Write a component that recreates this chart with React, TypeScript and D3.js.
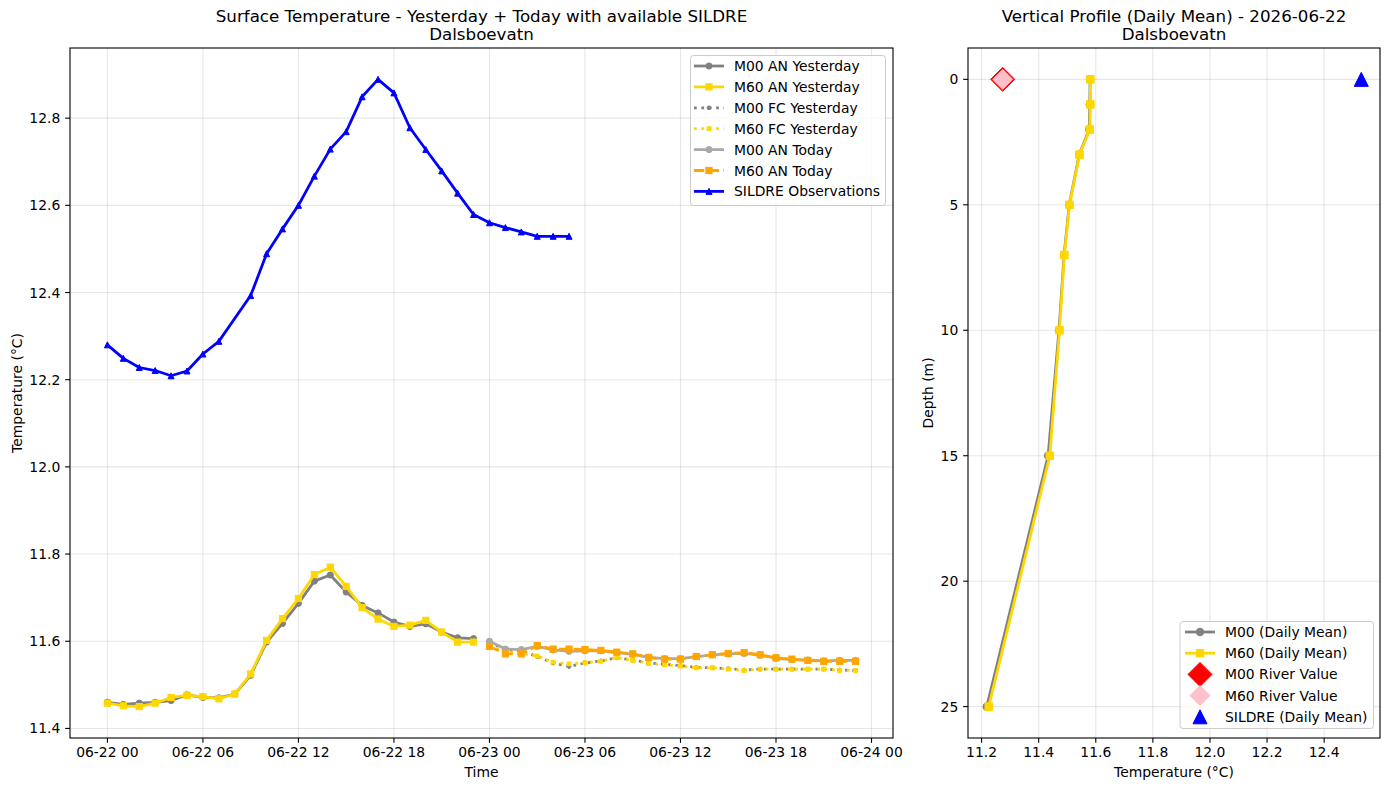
import React from "react";
import * as d3 from "d3";

// ---------------- DATA ----------------
const BASE_UTC = Date.UTC(2026, 5, 22, 0, 0, 0);

// hours since 2026-06-22 00 UTC
const yesterdayHours = d3.range(0, 24);
const todayHours = d3.range(24, 48);
const sildreHours = [0, 1, 2, 3, 4, 5, 6, 7, 9, 10, 11, 12, 13, 14, 15, 16, 17, 18, 19, 20, 21, 22, 23, 24, 25, 26, 27, 28, 29];

const m00AnYesterday = [11.460, 11.455, 11.458, 11.460, 11.464, 11.477, 11.471, 11.470, 11.479, 11.522, 11.598, 11.641, 11.687, 11.738, 11.752, 11.713, 11.682, 11.665, 11.644, 11.634, 11.640, 11.621, 11.608, 11.606];
const m60AnYesterday = [11.458, 11.452, 11.450, 11.458, 11.471, 11.476, 11.473, 11.468, 11.479, 11.525, 11.602, 11.652, 11.698, 11.753, 11.770, 11.726, 11.677, 11.651, 11.634, 11.637, 11.648, 11.621, 11.598, 11.598];

const m00FcYesterday = [11.598, 11.580, 11.578, 11.565, 11.550, 11.542, 11.550, 11.555, 11.562, 11.557, 11.550, 11.547, 11.544, 11.540, 11.539, 11.537, 11.534, 11.536, 11.536, 11.536, 11.536, 11.536, 11.534, 11.533];
const m60FcYesterday = [11.590, 11.575, 11.572, 11.566, 11.552, 11.548, 11.551, 11.554, 11.563, 11.556, 11.549, 11.546, 11.543, 11.539, 11.539, 11.536, 11.533, 11.536, 11.536, 11.536, 11.536, 11.536, 11.533, 11.533];

const m00AnToday = [11.600, 11.582, 11.581, 11.588, 11.580, 11.577, 11.578, 11.578, 11.574, 11.570, 11.563, 11.560, 11.560, 11.565, 11.569, 11.571, 11.572, 11.568, 11.561, 11.558, 11.557, 11.555, 11.556, 11.556];
const m60AnToday = [11.588, 11.571, 11.571, 11.590, 11.582, 11.582, 11.581, 11.579, 11.575, 11.571, 11.563, 11.559, 11.559, 11.565, 11.569, 11.572, 11.574, 11.569, 11.562, 11.559, 11.556, 11.554, 11.554, 11.554];

const sildreObs = [12.280, 12.249, 12.228, 12.221, 12.209, 12.220, 12.259, 12.288, 12.393, 12.489, 12.546, 12.600, 12.667, 12.729, 12.769, 12.849, 12.889, 12.858, 12.778, 12.728, 12.679, 12.628, 12.579, 12.560, 12.549, 12.539, 12.529, 12.529, 12.529];

const depths = [0, 1, 2, 3, 5, 7, 10, 15, 25];
const m00Profile = [11.580, 11.579, 11.577, 11.542, 11.507, 11.489, 11.471, 11.433, 11.218];
const m60Profile = [11.581, 11.581, 11.579, 11.543, 11.508, 11.490, 11.473, 11.439, 11.225];
const m00River = 11.274;
const m60River = 11.274;
const sildreDailyMean = d3.mean(sildreObs) as number;

const leftYTicks = [11.4, 11.6, 11.8, 12.0, 12.2, 12.4, 12.6, 12.8];
const rightYTicks = [0, 5, 10, 15, 20, 25];
const rightXTicks = [11.2, 11.4, 11.6, 11.8, 12.0, 12.2, 12.4];

// ---------------- LAYOUT ----------------
const W = 1389;
const H = 790;
const FONT = "DejaVu Sans, sans-serif";
const L = { x0: 70, x1: 893, y0: 48, y1: 738 };
const R = { x0: 968, x1: 1380, y0: 48, y1: 738 };
const TICK = 4.86;
const PAD = 4.86;
const FS = 13.9;
const TFS = 16.7;
const LW = 2.78;
const SPINE = 1.1;
const GRID = { stroke: "#b0b0b0", strokeOpacity: 0.3, strokeWidth: 1.1 };
const DASHED = "10.3,4.4";
const DOTTED = "2.78,4.6";

const toDate = (h: number) => new Date(BASE_UTC + h * 3600 * 1000);

type Shape = "circle" | "square" | "triangle" | "diamond";

function Marker({ shape, x, y, size, fill, stroke, sw = 1 }: { shape: Shape; x: number; y: number; size: number; fill: string; stroke?: string; sw?: number }) {
  const s = size / 2;
  const st = stroke ?? fill;
  if (shape === "circle") return <circle cx={x} cy={y} r={s} fill={fill} stroke={st} strokeWidth={sw} />;
  if (shape === "square") return <rect x={x - s} y={y - s} width={size} height={size} fill={fill} stroke={st} strokeWidth={sw} />;
  if (shape === "triangle")
    return <path d={`M${x},${y - s}L${x - s},${y + s}L${x + s},${y + s}Z`} fill={fill} stroke={st} strokeWidth={sw} strokeLinejoin="miter" />;
  return <path d={`M${x},${y - s}L${x + s},${y}L${x},${y + s}L${x - s},${y}Z`} fill={fill} stroke={st} strokeWidth={sw} />;
}

type Series = { label: string; hours: number[]; values: number[]; color: string; dash?: string; shape: Shape; size: number; width: number };

const leftSeries: Series[] = [
  { label: "M00 AN Yesterday", hours: yesterdayHours, values: m00AnYesterday, color: "#808080", shape: "circle", size: 6.2, width: LW },
  { label: "M60 AN Yesterday", hours: yesterdayHours, values: m60AnYesterday, color: "#FFD700", shape: "square", size: 6.2, width: LW },
  { label: "M00 FC Yesterday", hours: todayHours, values: m00FcYesterday, color: "#808080", dash: DOTTED, shape: "circle", size: 3.8, width: LW },
  { label: "M60 FC Yesterday", hours: todayHours, values: m60FcYesterday, color: "#FFD700", dash: DOTTED, shape: "square", size: 3.8, width: LW },
  { label: "M00 AN Today", hours: todayHours, values: m00AnToday, color: "#A9A9A9", shape: "circle", size: 6.2, width: LW },
  { label: "M60 AN Today", hours: todayHours, values: m60AnToday, color: "#FFA500", dash: DASHED, shape: "square", size: 6.2, width: LW },
  { label: "SILDRE Observations", hours: sildreHours, values: sildreObs, color: "#0000FF", shape: "triangle", size: 6, width: LW },
];

function padDomain(lo: number, hi: number, frac = 0.05): [number, number] {
  const r = hi - lo;
  return [lo - r * frac, hi + r * frac];
}

function LeftChart() {
  const allHours = leftSeries.flatMap((s) => s.hours);
  const allVals = leftSeries.flatMap((s) => s.values);
  const [h0, h1] = padDomain(d3.min(allHours)!, d3.max(allHours)!);
  const [v0, v1] = padDomain(d3.min(allVals)!, d3.max(allVals)!);
  const x = d3.scaleUtc().domain([toDate(h0), toDate(h1)]).range([L.x0, L.x1]);
  const y = d3.scaleLinear().domain([v0, v1]).range([L.y1, L.y0]);
  const xTicks = d3.utcHour.every(6)!.range(toDate(0), toDate(48.01));
  const fmt = d3.utcFormat("%m-%d %H");

  const legend = { x: 690.5, y: 55.5, w: 195, h: 150, row0: 66, dy: 20.9, hx0: 694, hx1: 724, tx: 734 };

  return (
    <g>
      {/* grid */}
      {xTicks.map((t, i) => (
        <line key={"gx" + i} x1={x(t)} x2={x(t)} y1={L.y0} y2={L.y1} {...GRID} />
      ))}
      {leftYTicks.map((t, i) => (
        <line key={"gy" + i} x1={L.x0} x2={L.x1} y1={y(t)} y2={y(t)} {...GRID} />
      ))}
      {/* series */}
      {leftSeries.map((s, si) => {
        const pts = s.hours.map((h, i) => [x(toDate(h)), y(s.values[i])] as [number, number]);
        const line = d3.line()(pts) || "";
        return (
          <g key={"s" + si}>
            <path d={line} fill="none" stroke={s.color} strokeWidth={s.width} strokeDasharray={s.dash} strokeLinejoin="round" />
            {pts.map((p, i) => (
              <Marker key={i} shape={s.shape} x={p[0]} y={p[1]} size={s.size} fill={s.color} />
            ))}
          </g>
        );
      })}
      {/* axes frame */}
      <rect x={L.x0} y={L.y0} width={L.x1 - L.x0} height={L.y1 - L.y0} fill="none" stroke="#000" strokeWidth={SPINE} />
      {xTicks.map((t, i) => (
        <g key={"xt" + i}>
          <line x1={x(t)} x2={x(t)} y1={L.y1} y2={L.y1 + TICK} stroke="#000" strokeWidth={SPINE} />
          <text x={x(t)} y={757} textAnchor="middle" fontSize={FS} fontFamily={FONT} fill="#000">
            {fmt(t)}
          </text>
        </g>
      ))}
      {leftYTicks.map((t, i) => (
        <g key={"yt" + i}>
          <line x1={L.x0 - TICK} x2={L.x0} y1={y(t)} y2={y(t)} stroke="#000" strokeWidth={SPINE} />
          <text x={L.x0 - TICK - PAD} y={y(t)} dy="0.36em" textAnchor="end" fontSize={FS} fontFamily={FONT} fill="#000">
            {t.toFixed(1)}
          </text>
        </g>
      ))}
      <text x={(L.x0 + L.x1) / 2} y={777} textAnchor="middle" fontSize={FS} fontFamily={FONT}>
        Time
      </text>
      <text transform={`translate(22,${(L.y0 + L.y1) / 2}) rotate(-90)`} textAnchor="middle" fontSize={FS} fontFamily={FONT}>
        Temperature (°C)
      </text>
      <text x={(L.x0 + L.x1) / 2} y={21.8} textAnchor="middle" fontSize={TFS} fontFamily={FONT}>
        Surface Temperature - Yesterday + Today with available SILDRE
      </text>
      <text x={(L.x0 + L.x1) / 2} y={39.8} textAnchor="middle" fontSize={TFS} fontFamily={FONT}>
        Dalsboevatn
      </text>
      {/* legend */}
      <rect x={legend.x} y={legend.y} width={legend.w} height={legend.h} rx={3} fill="#fff" fillOpacity={0.8} stroke="#cccccc" strokeWidth={1} />
      {leftSeries.map((s, i) => {
        const ry = legend.row0 + i * legend.dy;
        return (
          <g key={"lg" + i}>
            <line x1={legend.hx0} x2={legend.hx1} y1={ry} y2={ry} stroke={s.color} strokeWidth={s.width} strokeDasharray={s.dash} />
            <Marker shape={s.shape} x={(legend.hx0 + legend.hx1) / 2} y={ry} size={s.size} fill={s.color} />
            <text x={legend.tx} y={ry} dy="0.36em" fontSize={FS} fontFamily={FONT}>
              {s.label}
            </text>
          </g>
        );
      })}
    </g>
  );
}

function RightChart() {
  const allT = [...m00Profile, ...m60Profile, m00River, m60River, sildreDailyMean];
  const [t0, t1] = padDomain(d3.min(allT)!, d3.max(allT)!);
  const [d0, d1] = padDomain(d3.min(depths)!, d3.max(depths)!);
  const x = d3.scaleLinear().domain([t0, t1]).range([R.x0, R.x1]);
  const y = d3.scaleLinear().domain([d0, d1]).range([R.y0, R.y1]);

  const m00Pts = depths.map((d, i) => [x(m00Profile[i]), y(d)] as [number, number]);
  const m60Pts = depths.map((d, i) => [x(m60Profile[i]), y(d)] as [number, number]);
  const line = d3.line();

  const legend = { x: 1180, y: 621.5, w: 193.5, h: 107, row0: 632, dy: 21.2, hx0: 1185, hx1: 1215, tx: 1225 };
  const entries: { label: string; color: string; shape: Shape; size: number; withLine: boolean }[] = [
    { label: "M00 (Daily Mean)", color: "#808080", shape: "circle", size: 7.5, withLine: true },
    { label: "M60 (Daily Mean)", color: "#FFD700", shape: "square", size: 7.5, withLine: true },
    { label: "M00 River Value", color: "#FF0000", shape: "diamond", size: 24, withLine: false },
    { label: "M60 River Value", color: "#FFC0CB", shape: "diamond", size: 20, withLine: false },
    { label: "SILDRE (Daily Mean)", color: "#0000FF", shape: "triangle", size: 14, withLine: false },
  ];

  return (
    <g>
      {rightXTicks.map((t, i) => (
        <line key={"gx" + i} x1={x(t)} x2={x(t)} y1={R.y0} y2={R.y1} {...GRID} />
      ))}
      {rightYTicks.map((t, i) => (
        <line key={"gy" + i} x1={R.x0} x2={R.x1} y1={y(t)} y2={y(t)} {...GRID} />
      ))}
      <path d={line(m00Pts) || ""} fill="none" stroke="#808080" strokeWidth={LW} strokeLinejoin="round" />
      {m00Pts.map((p, i) => (
        <Marker key={"a" + i} shape="circle" x={p[0]} y={p[1]} size={7.5} fill="#808080" />
      ))}
      <path d={line(m60Pts) || ""} fill="none" stroke="#FFD700" strokeWidth={LW} strokeLinejoin="round" />
      {m60Pts.map((p, i) => (
        <Marker key={"b" + i} shape="square" x={p[0]} y={p[1]} size={7.5} fill="#FFD700" />
      ))}
      <Marker shape="diamond" x={x(m00River)} y={y(0)} size={24} fill="#FF0000" />
      <Marker shape="diamond" x={x(m60River)} y={y(0)} size={20} fill="#FFC0CB" />
      <Marker shape="triangle" x={x(sildreDailyMean)} y={y(0)} size={14} fill="#0000FF" />

      <rect x={R.x0} y={R.y0} width={R.x1 - R.x0} height={R.y1 - R.y0} fill="none" stroke="#000" strokeWidth={SPINE} />
      {rightXTicks.map((t, i) => (
        <g key={"xt" + i}>
          <line x1={x(t)} x2={x(t)} y1={R.y1} y2={R.y1 + TICK} stroke="#000" strokeWidth={SPINE} />
          <text x={x(t)} y={757} textAnchor="middle" fontSize={FS} fontFamily={FONT}>
            {t.toFixed(1)}
          </text>
        </g>
      ))}
      {rightYTicks.map((t, i) => (
        <g key={"yt" + i}>
          <line x1={R.x0 - TICK} x2={R.x0} y1={y(t)} y2={y(t)} stroke="#000" strokeWidth={SPINE} />
          <text x={R.x0 - TICK - PAD} y={y(t)} dy="0.36em" textAnchor="end" fontSize={FS} fontFamily={FONT}>
            {t}
          </text>
        </g>
      ))}
      <text x={(R.x0 + R.x1) / 2} y={777} textAnchor="middle" fontSize={FS} fontFamily={FONT}>
        Temperature (°C)
      </text>
      <text transform={`translate(933,${(R.y0 + R.y1) / 2}) rotate(-90)`} textAnchor="middle" fontSize={FS} fontFamily={FONT}>
        Depth (m)
      </text>
      <text x={(R.x0 + R.x1) / 2} y={21.8} textAnchor="middle" fontSize={TFS} fontFamily={FONT}>
        Vertical Profile (Daily Mean) - 2026-06-22
      </text>
      <text x={(R.x0 + R.x1) / 2} y={39.8} textAnchor="middle" fontSize={TFS} fontFamily={FONT}>
        Dalsboevatn
      </text>
      <rect x={legend.x} y={legend.y} width={legend.w} height={legend.h} rx={3} fill="#fff" fillOpacity={0.8} stroke="#cccccc" strokeWidth={1} />
      {entries.map((e, i) => {
        const ry = legend.row0 + i * legend.dy;
        const cx = (legend.hx0 + legend.hx1) / 2;
        return (
          <g key={"lg" + i}>
            {e.withLine && <line x1={legend.hx0} x2={legend.hx1} y1={ry} y2={ry} stroke={e.color} strokeWidth={LW} />}
            <Marker shape={e.shape} x={cx} y={ry} size={e.size} fill={e.color} />
            <text x={legend.tx} y={ry} dy="0.36em" fontSize={FS} fontFamily={FONT}>
              {e.label}
            </text>
          </g>
        );
      })}
    </g>
  );
}

export default function App() {
  return (
    <svg width={W} height={H} viewBox={`0 0 ${W} ${H}`} style={{ position: "absolute", left: 0, top: 0, background: "#fff" }} fontFamily={FONT}>
      <rect x={0} y={0} width={W} height={H} fill="#fff" />
      <LeftChart />
      <RightChart />
    </svg>
  );
}
